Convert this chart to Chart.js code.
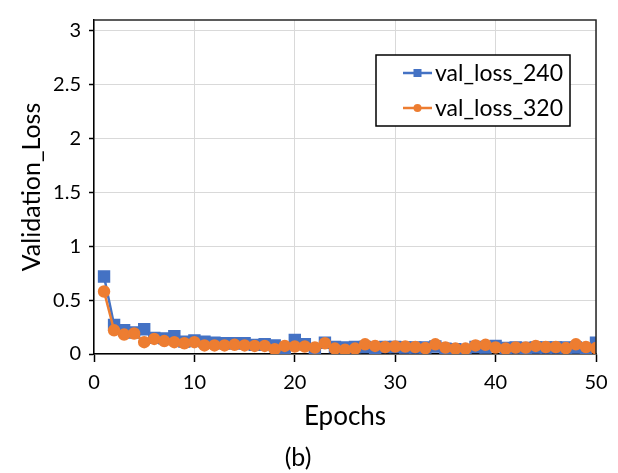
<!DOCTYPE html>
<html>
<head>
<meta charset="utf-8">
<script src="https://cdn.jsdelivr.net/npm/chart.js@4/dist/chart.umd.min.js"></script>
<style>
  html,body{margin:0;padding:0;background:#fff;}
  #wrap{width:618px;height:473px;}
</style>
</head>
<body>
<div id="wrap"><canvas id="c" width="618" height="473"></canvas></div>
<script>
// values
const epochs = [];
for (let i = 1; i <= 50; i++) epochs.push(i);

const valLoss240 = [0.72,0.27,0.22,0.20,0.23,0.15,0.145,0.165,0.115,0.125,
  0.115,0.105,0.10,0.10,0.10,0.085,0.09,0.08,0.035,0.13,
  0.09,0.03,0.105,0.065,0.06,0.065,0.065,0.05,0.065,0.065,
  0.06,0.06,0.06,0.07,0.05,0.045,0.03,0.065,0.06,0.075,
  0.055,0.06,0.055,0.06,0.06,0.06,0.06,0.06,0.02,0.105];

const valLoss320 = [0.58,0.22,0.18,0.19,0.11,0.14,0.12,0.11,0.10,0.11,
  0.08,0.08,0.08,0.085,0.08,0.075,0.075,0.045,0.075,0.07,
  0.07,0.06,0.10,0.05,0.04,0.05,0.09,0.075,0.065,0.07,
  0.07,0.065,0.055,0.09,0.06,0.05,0.05,0.08,0.085,0.06,
  0.05,0.06,0.06,0.075,0.065,0.065,0.055,0.09,0.065,0.055];

const seriesNames = ['val_loss_240','val_loss_320'];
const xTicks = [0,10,20,30,40,50];
const yTicks = [0,0.5,1,1.5,2,2.5,3];

const FONT = 'Lato, "Open Sans", sans-serif';
const BLUE = '#4472C4', ORANGE = '#ED7D31';

function pts(arr){ return arr.map((v,i)=>({x:epochs[i], y:v})); }

// frame on top and right + legend box
const framePlugin = {
  id:'frame',
  afterDraw(chart){
    const ctx = chart.ctx, ca = chart.chartArea;
    ctx.save();
    ctx.strokeStyle = '#262626';
    ctx.lineWidth = 1.5;
    ctx.beginPath();
    ctx.moveTo(ca.left, ca.top);
    ctx.lineTo(ca.right, ca.top);
    ctx.lineTo(ca.right, ca.bottom);
    ctx.stroke();

    // legend
    const lx = ca.right - 220, ly = ca.top + 35, lw = 194, lh = 71;
    ctx.fillStyle = '#fff';
    ctx.fillRect(lx, ly, lw, lh);
    ctx.strokeStyle = '#000';
    ctx.lineWidth = 1.5;
    ctx.strokeRect(lx, ly, lw, lh);
    const cols = [BLUE, ORANGE];
    ctx.font = '23px ' + FONT;
    ctx.textBaseline = 'middle';
    seriesNames.forEach((name,i)=>{
      const y = ly + 18 + i*35;
      ctx.strokeStyle = cols[i];
      ctx.lineWidth = 2.5;
      ctx.beginPath();
      ctx.moveTo(lx+27, y); ctx.lineTo(lx+56, y);
      ctx.stroke();
      ctx.fillStyle = cols[i];
      if (i === 0) {
        ctx.fillRect(lx+41.5-4, y-4, 8, 8);
      } else {
        ctx.beginPath(); ctx.arc(lx+41.5, y, 4, 0, Math.PI*2); ctx.fill();
      }
      ctx.fillStyle = '#000';
      ctx.fillText(name, lx+59, y+1);
    });
    ctx.restore();
  }
};

new Chart(document.getElementById('c'), {
  type:'line',
  data:{
    datasets:[
      {label:seriesNames[0], data:pts(valLoss240), borderColor:BLUE, backgroundColor:BLUE,
        borderWidth:2.5, pointStyle:'rect', pointRadius:7, pointHoverRadius:7, order:2},
      {label:seriesNames[1], data:pts(valLoss320), borderColor:ORANGE, backgroundColor:ORANGE,
        borderWidth:2.5, pointStyle:'circle', pointRadius:5, pointHoverRadius:5, order:1}
    ]
  },
  options:{
    responsive:false,
    animation:false,
    layout:{padding:{left:0, top:5, right:22, bottom:0}},
    plugins:{
      legend:{display:false},
      tooltip:{enabled:false},
      title:{display:true, text:'(b)', position:'bottom',
        font:{family:FONT, size:25, weight:'normal'}, color:'#000',
        padding:{top:6, bottom:0}}
    },
    scales:{
      x:{
        type:'linear', min:0, max:50,
        afterBuildTicks(s){ s.ticks = xTicks.map(v=>({value:v})); },
        afterFit(s){ s.height = 83; },
        ticks:{font:{family:FONT, size:20}, color:'#000', padding:9, maxRotation:0},
        grid:{color:'#d9d9d9', lineWidth:1, tickColor:'#000', tickLength:8, tickWidth:1.5},
        border:{color:'#000', width:1.5},
        title:{display:true, text:'Epochs', font:{family:FONT, size:26}, color:'#000',
          padding:{top:0, bottom:5}}
      },
      y:{
        min:0, max:3.1,
        afterBuildTicks(s){ s.ticks = yTicks.map(v=>({value:v})); },
        afterFit(s){ s.width = 94; },
        ticks:{font:{family:FONT, size:20}, color:'#000', padding:8,
          callback:(v)=>String(v)},
        grid:{color:'#d9d9d9', lineWidth:1, tickColor:'#000', tickLength:5, tickWidth:1.5},
        border:{color:'#000', width:1.5},
        title:{display:true, text:'Validation_Loss', font:{family:FONT, size:25}, color:'#000',
          padding:{top:17, bottom:0}}
      }
    }
  },
  plugins:[framePlugin]
});
</script>
</body>
</html>
